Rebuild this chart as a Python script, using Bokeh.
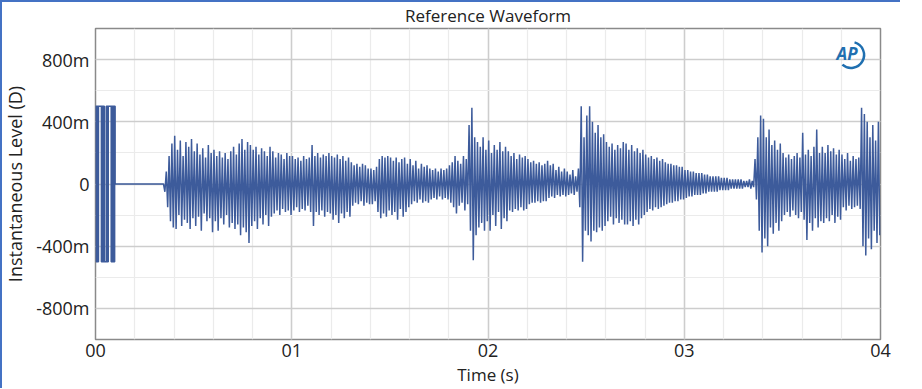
import numpy as np
from bokeh.plotting import figure
from bokeh.models import FixedTicker, Label
from bokeh.embed import file_html
from bokeh.resources import INLINE

# ---------------- data ----------------
TITLE = "Reference Waveform"
X_LABEL = "Time (s)"
Y_LABEL = "Instantaneous Level (D)"

XTICKS = [0.0, 0.01, 0.02, 0.03, 0.04]
XTICK_LABELS = ["00", "01", "02", "03", "04"]
YTICKS = [-0.8, -0.4, 0.0, 0.4, 0.8]
YTICK_LABELS = ["-800m", "-400m", "0", "400m", "800m"]

# initial square burst (edge times in ms, level toggles between +/-0.5)
BURST_LEVEL = 0.5
BURST_EDGES_MS = [0.00, 0.025, 0.05, 0.075, 0.10, 0.125, 0.15,
                  0.30, 0.325, 0.35, 0.375, 0.40, 0.425, 0.45,
                  0.55, 0.575, 0.60, 0.625, 0.65,
                  0.80, 0.825, 0.85, 0.875, 0.90, 0.925, 0.95, 0.975]
BURST_END_MS = 1.0

# main waveform: per-cycle positive / negative peaks (hundredths), 7 cycles per ms from 3 ms
WAVE_START_MS = 3.0
CYCLES_PER_MS = 7
POS = [
    [0, 0, 0, 0, 8, 18, 26],        # 3 ms
    [31, 22, 28, 18, 27, 24, 29],   # 4
    [21, 26, 19, 23, 17, 25, 20],   # 5
    [22, 18, 21, 17, 20, 16, 21],   # 6
    [24, 19, 26, 29, 22, 27, 25],   # 7
    [22, 24, 19, 23, 21, 18, 24],   # 8
    [21, 17, 20, 19, 16, 20, 18],   # 9
    [18, 16, 17, 15, 18, 16, 17],   # 10
    [25, 18, 20, 17, 19, 18, 20],   # 11
    [18, 17, 19, 16, 18, 15, 17],   # 12
    [14, 12, 13, 11, 13, 12, 10],   # 13
    [10, 9, 11, 16, 18, 17, 18],    # 14
    [17, 15, 17, 14, 16, 17, 13],   # 15
    [16, 12, 15, 10, 13, 11, 12],   # 16
    [10, 9, 10, 8, 10, 9, 10],      # 17
    [12, 14, 18, 15, 13, 18, 16],   # 18
    [38, 49, 30, 27, 24, 30, 22],   # 19
    [28, 20, 25, 22, 27, 21, 24],   # 20
    [21, 18, 20, 16, 19, 17, 18],   # 21
    [16, 14, 15, 13, 14, 12, 13],   # 22
    [15, 12, 13, 9, 11, 8, 10],     # 23
    [8, 6, 9, 5, 10, 50, 30],       # 24
    [44, 50, 40, 33, 38, 30, 32],   # 25
    [27, 24, 26, 22, 25, 23, 27],   # 26
    [26, 22, 25, 21, 23, 20, 22],   # 27
    [19, 17, 18, 16, 17, 15, 16],   # 28
    [14, 13, 13, 12, 12, 11, 11],   # 29
    [9, 9, 8, 8, 7, 7, 7],          # 30
    [6, 6, 5, 5, 5, 5, 4],          # 31
    [4, 4, 3, 3, 3, 3, 3],          # 32
    [2, 2, 3, 2, 16, 30, 44],       # 33
    [42, 30, 35, 25, 28, 22, 26],   # 34
    [20, 17, 19, 16, 18, 20, 17],   # 35
    [33, 19, 22, 18, 24, 35, 20],   # 36
    [24, 20, 25, 21, 23, 19, 22],   # 37
    [19, 16, 20, 15, 18, 16, 17],   # 38
    [49, 45, 40, 30, 38, 28, 40],   # 39
]
NEG = [
    [0, 0, 0, -5, -15, -24, -28],
    [-29, -20, -27, -23, -25, -29, -22],
    [-27, -21, -30, -19, -24, -22, -31],
    [-24, -30, -22, -26, -20, -28, -25],
    [-29, -26, -33, -28, -31, -38, -27],
    [-24, -29, -22, -26, -20, -27, -21],
    [-19, -17, -20, -16, -18, -17, -20],
    [-17, -15, -18, -16, -17, -14, -18],
    [-27, -18, -20, -17, -21, -18, -19],
    [-23, -20, -25, -19, -22, -18, -21],
    [-14, -12, -13, -11, -14, -12, -13],
    [-13, -11, -18, -22, -19, -21, -17],
    [-20, -18, -23, -16, -21, -18, -15],
    [-13, -11, -12, -10, -12, -11, -12],
    [-10, -9, -10, -8, -10, -9, -10],
    [-12, -15, -19, -14, -12, -17, -13],
    [-30, -49, -33, -28, -25, -30, -24],
    [-30, -20, -27, -18, -29, -22, -24],
    [-17, -18, -16, -17, -15, -17, -16],
    [-13, -12, -12, -11, -12, -11, -11],
    [-9, -8, -9, -7, -8, -7, -8],
    [-7, -6, -7, -5, -15, -50, -30],
    [-33, -37, -30, -31, -28, -30, -27],
    [-24, -21, -26, -22, -25, -23, -26],
    [-26, -24, -27, -23, -26, -22, -20],
    [-18, -16, -17, -15, -16, -15, -14],
    [-13, -12, -12, -11, -11, -10, -10],
    [-9, -8, -8, -7, -7, -7, -6],
    [-6, -5, -5, -5, -5, -4, -4],
    [-4, -4, -3, -3, -3, -3, -3],
    [-2, -2, -3, -2, -10, -30, -44],
    [-35, -40, -28, -32, -25, -30, -24],
    [-20, -18, -21, -17, -20, -22, -18],
    [-23, -36, -25, -30, -22, -28, -24],
    [-25, -22, -24, -20, -25, -21, -23],
    [-15, -17, -14, -16, -15, -14, -16],
    [-40, -46, -35, -42, -30, -38, -33],
]

# ---------------- build the trace ----------------
xs, ys = [0.0], [0.0]
lev = 0.0
for i, e in enumerate(BURST_EDGES_MS):
    t = e / 1000.0
    xs.append(t); ys.append(lev)
    lev = BURST_LEVEL if i % 2 == 0 else -BURST_LEVEL
    xs.append(t); ys.append(lev)
xs += [BURST_END_MS / 1000.0, BURST_END_MS / 1000.0]
ys += [lev, 0.0]

pos = [v / 100.0 for row in POS for v in row]
neg = [v / 100.0 for row in NEG for v in row]
period = 1.0 / CYCLES_PER_MS / 1000.0
t0 = WAVE_START_MS / 1000.0
xs.append(t0); ys.append(0.0)
for i, (pv, nv) in enumerate(zip(pos, neg)):
    tc = t0 + i * period
    xs += [tc + 0.25 * period, tc + 0.75 * period]
    ys += [pv, nv]

# ---------------- figure ----------------
FONT = "Open Sans"
TXT = "#222222"
p = figure(frame_width=785, frame_height=311, output_backend="svg",
           toolbar_location=None, x_range=(0.0, 0.04), y_range=(-1.0, 1.0),
           min_border_left=93, min_border_right=20, min_border_top=20,
           min_border_bottom=42, background_fill_color="white",
           border_fill_color="white", border_fill_alpha=0.0)

p.title.text = TITLE
p.title.align = "center"
p.title.text_font = FONT
p.title.text_font_size = "17px"
p.title.text_font_style = "normal"
p.title.text_color = TXT
p.title.text_line_height = 1.0
p.title.standoff = 3
p.title.offset = 0

p.outline_line_color = "#8a8a8a"
p.outline_line_width = 1.5

p.xaxis.ticker = FixedTicker(ticks=XTICKS, minor_ticks=[i * 0.002 for i in range(21)])
p.yaxis.ticker = FixedTicker(ticks=YTICKS, minor_ticks=[-1.0 + i * 0.2 for i in range(11)])
p.xaxis.major_label_overrides = dict(zip(XTICKS, XTICK_LABELS))
p.yaxis.major_label_overrides = dict(zip(YTICKS, YTICK_LABELS))

for ax in (p.xaxis, p.yaxis):
    ax.axis_line_color = None
    ax.major_tick_line_color = None
    ax.minor_tick_line_color = None
    ax.major_tick_out = 0
    ax.major_tick_in = 0
    ax.minor_tick_out = 0
    ax.major_label_text_font = FONT
    ax.major_label_text_font_size = "18px"
    ax.major_label_text_line_height = 1.0
    ax.major_label_text_color = TXT
    ax.axis_label_text_font = FONT
    ax.axis_label_text_font_style = "normal"
    ax.axis_label_text_line_height = 1.0
    ax.axis_label_text_color = TXT

p.xaxis.axis_label = X_LABEL
p.yaxis.axis_label = Y_LABEL
p.xaxis.axis_label_text_font_size = "17px"
p.yaxis.axis_label_text_font_size = "18px"
p.xaxis.major_label_standoff = 4
p.yaxis.major_label_standoff = 6
p.xaxis.axis_label_standoff = 3
p.yaxis.axis_label_standoff = 6

for g in (p.xgrid, p.ygrid):
    g.grid_line_color = "#cdcdcd"
    g.grid_line_width = 1.5
    g.minor_grid_line_color = "#ebebeb"
    g.minor_grid_line_width = 1.2

p.line(xs, ys, line_color="#3d5b9b", line_width=1.5)

# AP logo
LOGO_X, LOGO_Y = 0.0383, 0.84
p.add_layout(Label(x=LOGO_X, y=LOGO_Y, text="AP", text_font=FONT,
                   text_font_style="bold italic", text_font_size="17px",
                   text_color="#1f6fb0", text_align="center",
                   text_baseline="middle"))
p.arc(x=[LOGO_X + 0.0002], y=[LOGO_Y - 0.01], radius=13, radius_units="screen",
      start_angle=-2.3, end_angle=1.3, line_color="#1f6fb0", line_width=2.5)

# blue window edge (left and top), drawn without changing layout
p.styles = {"box-shadow": "inset 2px 2px 0 0 #4472c4", "background-color": "white"}

open("out.html", "w").write(file_html(p, INLINE))
